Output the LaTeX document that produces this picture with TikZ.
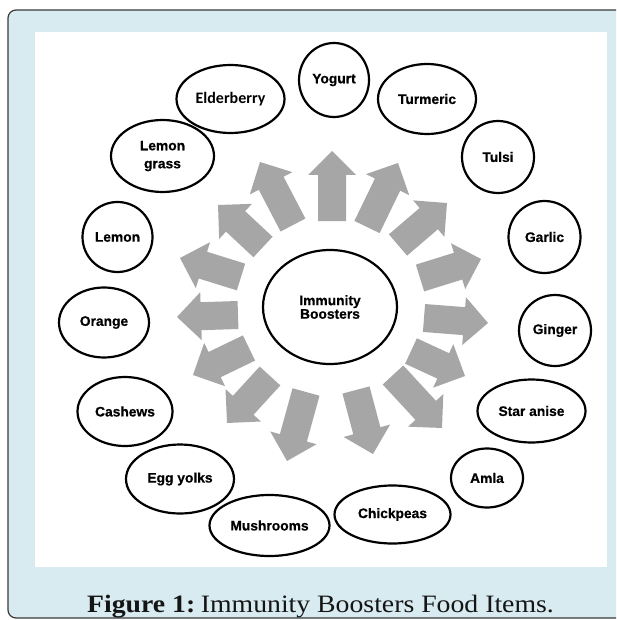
\documentclass[tikz,border=0pt]{standalone}
\usepackage{fontspec}
\usetikzlibrary{shapes.geometric}
\newfontfamily\arialbf{Liberation Sans Bold}[FakeBold=0.6]
\newfontfamily\calibf{Carlito Bold}
\newfontfamily\capf{Liberation Serif}
\definecolor{framebg}{HTML}{D8EBF0}
\definecolor{frameline}{HTML}{3A3A3A}
\definecolor{arrgray}{HTML}{A6A6A6}
\definecolor{captxt}{HTML}{151515}
\tikzset{
  food/.style={ellipse, draw=black, line width=2.2pt, inner sep=0pt, align=center,
    font=\arialbf\fontsize{13.8}{16}\selectfont},
  blockarrow/.style={fill=arrgray, draw=none}
}
\begin{document}
\begin{tikzpicture}[x=1pt,y=-1pt]
\useasboundingbox (0,0) rectangle (616,620);
\clip (0,0) rectangle (616,620);
% frame
\draw[fill=framebg, draw=frameline, line width=1.2pt, rounded corners=8pt] (8,10) rectangle (640,618);
\fill[white] (35,32) rectangle (607,567);
% arrows
\foreach \bx/\by/\tx/\ty in {
  332/221/332/151, 367/227/398/163, 398/245/447/203, 420/278/481/259,
  424/318/488/323, 411/351/465/376, 393/375/442/428, 356/390/373/454,
  306/392/287/461, 270/376/227/423, 249/348/193/375, 238/315/177/317,
  241/277/180/258, 263/247/218/205, 293/225/260/162} {
  \pgfmathsetmacro\ang{atan2(\by-\ty,\tx-\bx)}
  \pgfmathsetmacro\len{veclen(\tx-\bx,\ty-\by)}
  \pgfmathsetmacro\hb{\len-24}
  \fill[blockarrow, shift={(\bx,\by)}, rotate=\ang] (0,-14) -- (\hb,-14) -- (\hb,-24) -- (\len,0) -- (\hb,24) -- (\hb,14) -- (0,14) -- cycle;
}
% centre
\node[food, minimum width=134pt, minimum height=114pt, font=\arialbf\fontsize{13.8}{13.5}\selectfont] (centre) at (330,307) {Immunity\\Boosters};
% food items
\node[food, minimum width=70pt, minimum height=74pt] (yogurt) at (334,80) {Yogurt};
\node[food, minimum width=108pt, minimum height=68pt, font=\calibf\fontsize{16}{18}\selectfont] (elder) at (230.5,99) {\raisebox{3pt}{Elderberry}};
\node[food, minimum width=98pt, minimum height=70pt] (turmeric) at (427,99) {Turmeric};
\node[food, minimum width=103pt, minimum height=72pt, font=\arialbf\fontsize{13.8}{18}\selectfont] (lgrass) at (162.5,156) {Lemon\\grass};
\node[food, minimum width=72pt, minimum height=72pt] (tulsi) at (498,157) {Tulsi};
\node[food, minimum width=70pt, minimum height=70pt] (lemon) at (117.5,237) {Lemon};
\node[food, minimum width=72pt, minimum height=72pt] (garlic) at (544.5,237) {Garlic};
\node[food, minimum width=90pt, minimum height=70pt] (orange) at (104,322.5) {Orange};
\node[food, minimum width=72pt, minimum height=71pt] (ginger) at (555,330.5) {Ginger};
\node[food, minimum width=95pt, minimum height=69pt] (cashews) at (125,411.5) {Cashews};
\node[food, minimum width=108pt, minimum height=63pt] (staranise) at (531.5,411) {Star anise};
\node[food, minimum width=108pt, minimum height=69pt] (eggyolks) at (180,479) {Egg yolks};
\node[food, minimum width=72pt, minimum height=59pt] (amla) at (487,478) {Amla};
\node[food, minimum width=120pt, minimum height=61pt] (mushrooms) at (269.5,525.5) {Mushrooms};
\node[food, minimum width=116pt, minimum height=58pt] (chickpeas) at (392.5,514.5) {Chickpeas};
% caption
\node[anchor=base, inner sep=0pt, text=captxt, font=\capf\fontsize{25}{30}\selectfont] (caption) at (320.5,612)
  {\scalebox{1.11}[1]{\textbf{Figure 1:}\kern0.2em Immunity Boosters Food Items.}};
\end{tikzpicture}
\end{document}
